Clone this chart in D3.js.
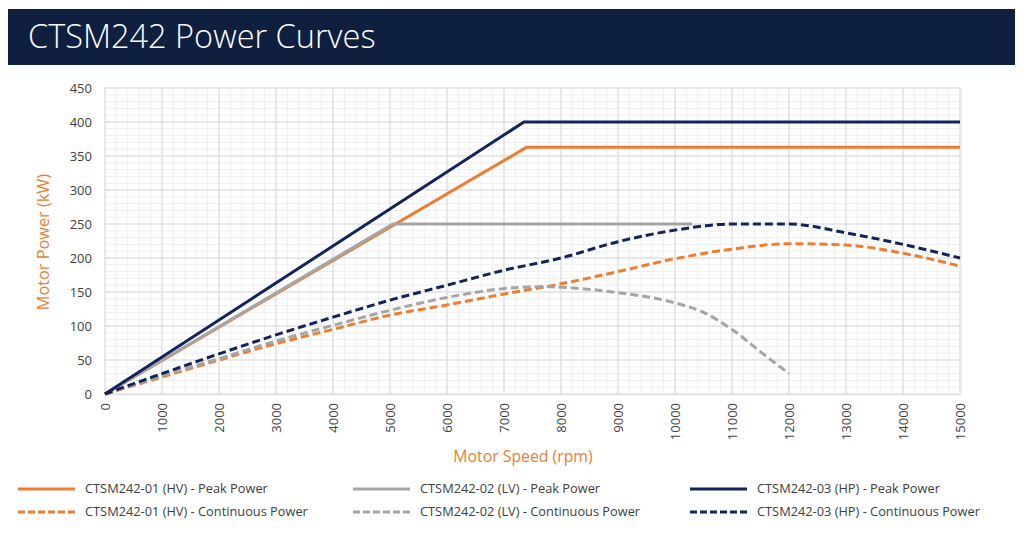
<!DOCTYPE html>
<html><head><meta charset="utf-8">
<script src="https://cdn.jsdelivr.net/npm/d3@7"></script>
<style>body{margin:0;background:#fff;font-family:"Open Sans",sans-serif;}</style>
</head><body><svg id="c" width="1024" height="534"></svg>
<script>
const title = "CTSM242 Power Curves";
const xTicks = [0,1000,2000,3000,4000,5000,6000,7000,8000,9000,10000,11000,12000,13000,14000,15000];
const yTicks = [0,50,100,150,200,250,300,350,400,450];
const hvPeakRpm = [0, 7400, 15000];
const hvPeakKw  = [0, 363, 363];
const lvPeakRpm = [0, 5050, 10300];
const lvPeakKw  = [0, 250, 250];
const hpPeakRpm = [0, 7350, 15000];
const hpPeakKw  = [0, 400, 400];
const contRpm = [0,1000,2000,3000,4000,5000,6000,7000,8000,9000,10000,11000,12000,13000,14000,15000];
const hvContKw = [0,25,50,74,95,116,131,147,162,180,199,213,221,219,207,188];
const lvContRpm = [0,1000,2000,3000,4000,5000,6000,7000,7700,8000,9000,10000,10500,11000,11500,12000];
const lvContKw  = [0,27,52,78,101,123,142,155,158,157,149,134,120,95,62,30];
const hpContKw = [0,30,59,87,113,138,160,182,200,224,241,250,250,237,220,200];
const seriesNames = ["CTSM242-01 (HV) - Peak Power","CTSM242-02 (LV) - Peak Power","CTSM242-03 (HP) - Peak Power",
  "CTSM242-01 (HV) - Continuous Power","CTSM242-02 (LV) - Continuous Power","CTSM242-03 (HP) - Continuous Power"];

const ORANGE="#ed7d31", GRAY="#a5a5a5", NAVY="#12245a";
const svg = d3.select("#c");
svg.append("rect").attr("x",8).attr("y",9).attr("width",1007).attr("height",56).attr("fill","#0e1f40");
svg.append("text").attr("x",28).attr("y",48).attr("fill","#fff").attr("font-size",32.5).attr("font-weight",300)
  .attr("font-family","Open Sans").text(title);

const L=105,R=960,T=88,B=394;
const x = d3.scaleLinear().domain([0,15000]).range([L,R]);
const y = d3.scaleLinear().domain([0,450]).range([B,T]);
const g = svg.append("g");
g.append("rect").attr("x",L).attr("y",T).attr("width",R-L+2).attr("height",B-T+2).attr("fill","#f3f3f3");
g.append("rect").attr("x",L).attr("y",T).attr("width",R-L).attr("height",B-T).attr("fill","#fff");
const minorX = d3.range(0,15001,200), minorY = d3.range(0,451,10);
g.selectAll(".mx").data(minorX).join("line").attr("x1",d=>x(d)).attr("x2",d=>x(d)).attr("y1",T).attr("y2",B).attr("stroke","#efefef").attr("stroke-width",1);
g.selectAll(".my").data(minorY).join("line").attr("y1",d=>y(d)).attr("y2",d=>y(d)).attr("x1",L).attr("x2",R).attr("stroke","#efefef").attr("stroke-width",1);
g.selectAll(".gx").data(xTicks).join("line").attr("x1",d=>x(d)).attr("x2",d=>x(d)).attr("y1",T).attr("y2",B).attr("stroke","#d9d9d9").attr("stroke-width",1);
g.selectAll(".gy").data(yTicks).join("line").attr("y1",d=>y(d)).attr("y2",d=>y(d)).attr("x1",L).attr("x2",R).attr("stroke","#d9d9d9").attr("stroke-width",1);

const yAx = svg.append("g").attr("transform",`translate(${L},0)`).call(d3.axisLeft(y).tickValues(yTicks).tickSize(0).tickPadding(13));
yAx.select(".domain").remove();
yAx.selectAll("text").attr("font-size",13).attr("fill","#404040").attr("font-family","Open Sans");
const xAx = svg.append("g").attr("transform",`translate(0,${B})`).call(d3.axisBottom(x).tickValues(xTicks).tickSize(0).tickFormat(d3.format("d")));
xAx.select(".domain").remove();
xAx.selectAll("text").attr("font-size",13).attr("fill","#404040").attr("font-family","Open Sans")
  .attr("transform","rotate(-90)").attr("text-anchor","end").attr("x",-9).attr("y",0).attr("dy","0.35em");

svg.append("text").attr("transform","translate(49,242) rotate(-90)").attr("text-anchor","middle")
  .attr("fill",ORANGE).attr("font-size",16.3).attr("font-family","Open Sans").text("Motor Power (kW)");
svg.append("text").attr("x",523).attr("y",462).attr("text-anchor","middle")
  .attr("fill",ORANGE).attr("font-size",15.8).attr("font-family","Open Sans").text("Motor Speed (rpm)");

const line = d3.line().x(d=>x(d[0])).y(d=>y(d[1]));
const curve = d3.line().x(d=>x(d[0])).y(d=>y(d[1])).curve(d3.curveMonotoneX);
const zip=(a,b)=>a.map((v,i)=>[v,b[i]]);
const series = [
  {d:zip(contRpm,hvContKw), c:ORANGE, dash:true, f:curve},
  {d:zip(lvContRpm,lvContKw), c:GRAY, dash:true, f:curve},
  {d:zip(hvPeakRpm,hvPeakKw), c:ORANGE, dash:false, f:line},
  {d:zip(lvPeakRpm,lvPeakKw), c:GRAY, dash:false, f:line},
  {d:zip(hpPeakRpm,hpPeakKw), c:NAVY, dash:false, f:line},
  {d:zip(contRpm,hpContKw), c:NAVY, dash:true, f:curve},
];
const cg = svg.append("g");
series.forEach(s=>{
  cg.append("path").attr("d",s.f(s.d)).attr("fill","none").attr("stroke",s.c).attr("stroke-width",3)
    .attr("stroke-dasharray",s.dash?"8,4":null).attr("stroke-linejoin","round");
});

const legCols=[18,353,690], legRows=[489,512];
const legColors=[ORANGE,GRAY,NAVY];
seriesNames.forEach((n,i)=>{
  const col=i%3,row=Math.floor(i/3);
  const lx=legCols[col], ly=legRows[row];
  svg.append("line").attr("x1",lx).attr("x2",lx+57).attr("y1",ly).attr("y2",ly).attr("stroke",legColors[col])
    .attr("stroke-width",3).attr("stroke-dasharray",row?"7,3":null);
  svg.append("text").attr("x",lx+67).attr("y",ly).attr("dy","0.35em").attr("font-size",12.8).attr("fill","#404040")
    .attr("font-family","Open Sans").text(n);
});
</script></body></html>
